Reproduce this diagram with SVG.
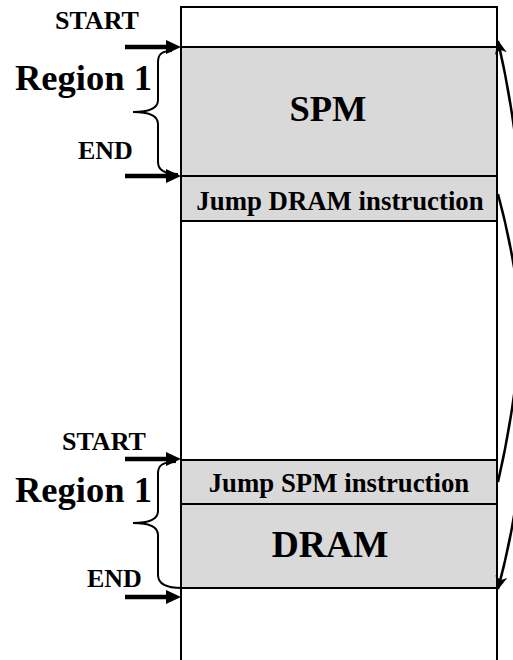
<svg xmlns="http://www.w3.org/2000/svg" width="513" height="660" viewBox="0 0 513 660">
<style>
.box{fill:#d9d9d9;stroke:#000;stroke-width:2}
.col{fill:#fff;stroke:#000;stroke-width:2}
.t{font-family:"Liberation Serif","Times New Roman",serif;font-weight:bold;fill:#000}
.s{font-size:26px}
.l{font-size:36.5px}
.m{font-size:26.8px}
.brace{fill:none;stroke:#000;stroke-width:2}
.ptr{stroke:#000;stroke-width:4.5;fill:none}
.curve{fill:none;stroke:#000;stroke-width:2.5;marker-end:url(#ah)}
</style>
<defs>
<marker id="ah" markerWidth="14" markerHeight="12" refX="13" refY="6" orient="auto" markerUnits="userSpaceOnUse">
<path d="M0,0 L14,6 L0,12 L4,6 Z" fill="#000"/>
</marker>
</defs>
<g id="column">
<rect class="col" x="181" y="7" width="316" height="670"/>
</g>
<g id="spm">
<rect class="box" x="181" y="47" width="316" height="129"/>
<text class="t l" x="328" y="121" text-anchor="middle">SPM</text>
</g>
<g id="jump-dram">
<rect class="box" x="181" y="176" width="316" height="45"/>
<text class="t m" x="340" y="210" text-anchor="middle">Jump DRAM instruction</text>
</g>
<g id="jump-spm">
<rect class="box" x="181" y="460" width="316" height="44"/>
<text class="t m" x="339" y="492" text-anchor="middle">Jump SPM instruction</text>
</g>
<g id="dram">
<rect class="box" x="181" y="504" width="316" height="84"/>
<text class="t l" x="330" y="557" text-anchor="middle" style="font-size:37.5px">DRAM</text>
</g>
<g id="region-top">
<text class="t s" x="55" y="29">START</text>
<text class="t l" x="15" y="90">Region 1</text>
<text class="t s" x="78" y="159">END</text>
<path class="brace" d="M172,51 C162,51 158,54 158,62 L158,100 C158,108 150,112 133,112 C150,112 158,116 158,124 L158,162 C158,170 164,174 178,174"/>
</g>
<g id="region-bottom">
<text class="t s" x="62" y="450">START</text>
<text class="t l" x="15" y="502">Region 1</text>
<text class="t s" x="87" y="587">END</text>
<path class="brace" d="M176,462 C163,462 158,465 158,473 L158,511 C158,519 150,523 133,523 C150,523 158,527 158,535 L158,575 C158,583 165,588 182,588"/>
</g>
<g id="connectors">
<line class="ptr" x1="125" y1="47" x2="168" y2="47"/>
<path d="M166,40 L181,47 L166,54 Z"/>
<line class="ptr" x1="125" y1="176" x2="168" y2="176"/>
<path d="M166,169 L181,176 L166,183 Z"/>
<line class="ptr" x1="125" y1="459" x2="168" y2="459"/>
<path d="M166,452 L181,459 L166,466 Z"/>
<line class="ptr" x1="125" y1="597" x2="168" y2="597"/>
<path d="M166,590 L181,597 L166,604 Z"/>
<path class="curve" d="M498,194 A756,756 0 0 1 498,589"/>
<path class="curve" d="M498,482 A980,980 0 0 0 498,41"/>
</g>
</svg>
